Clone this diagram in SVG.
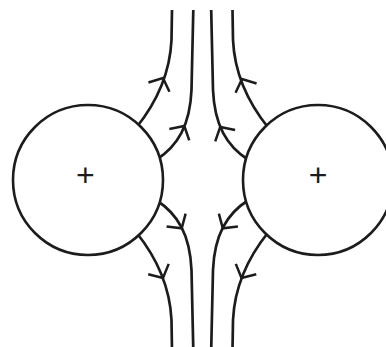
<svg xmlns="http://www.w3.org/2000/svg" xmlns:xlink="http://www.w3.org/1999/xlink" width="386" height="347" viewBox="0 0 386 347">
<style>
.ln{fill:none;stroke:#1c1c1c;stroke-width:2.7;stroke-linecap:butt;stroke-linejoin:round}
.ch{fill:none;stroke:#1c1c1c;stroke-width:2.5}
.cir{fill:#fff;stroke:#1c1c1c;stroke-width:2.6}
.lbl{font-family:"Liberation Sans",Arial,sans-serif;font-size:32px;fill:#1c1c1c;text-anchor:middle}
</style>
<defs>
<path id="chev" class="ch" d="M-10,-11.5 L0,0 L-10,11.5"/>
<g id="ul">
<path class="ln" d="M136,128 C157,102 170,72 171.5,40 L172,10"/>
<path class="ln" d="M156,160 C178,146 190,125 191.5,90 L193.3,10"/>
</g>
</defs>
<g id="connectors">
<use xlink:href="#ul"/>
<use xlink:href="#ul" transform="translate(404.5,0) scale(-1,1)"/>
<use xlink:href="#ul" transform="translate(0,360) scale(1,-1)"/>
<use xlink:href="#ul" transform="translate(404.5,360) scale(-1,-1)"/>
<use xlink:href="#chev" transform="translate(163,78) rotate(-66)"/>
<use xlink:href="#chev" transform="translate(184.3,126) rotate(-60)"/>
<use xlink:href="#chev" transform="translate(242,79) rotate(-114)"/>
<use xlink:href="#chev" transform="translate(220.2,127) rotate(-120)"/>
<use xlink:href="#chev" transform="translate(181.7,228.3) rotate(56)"/>
<use xlink:href="#chev" transform="translate(163,278) rotate(63)"/>
<use xlink:href="#chev" transform="translate(222.8,228.3) rotate(124)"/>
<use xlink:href="#chev" transform="translate(241.5,278) rotate(117)"/>
</g>
<g id="charge-left">
<circle class="cir" cx="88" cy="180" r="75"/>
<text class="lbl" x="85.3" y="186">+</text>
</g>
<g id="charge-right">
<circle class="cir" cx="318" cy="180" r="75"/>
<text class="lbl" x="318" y="186">+</text>
</g>
</svg>
